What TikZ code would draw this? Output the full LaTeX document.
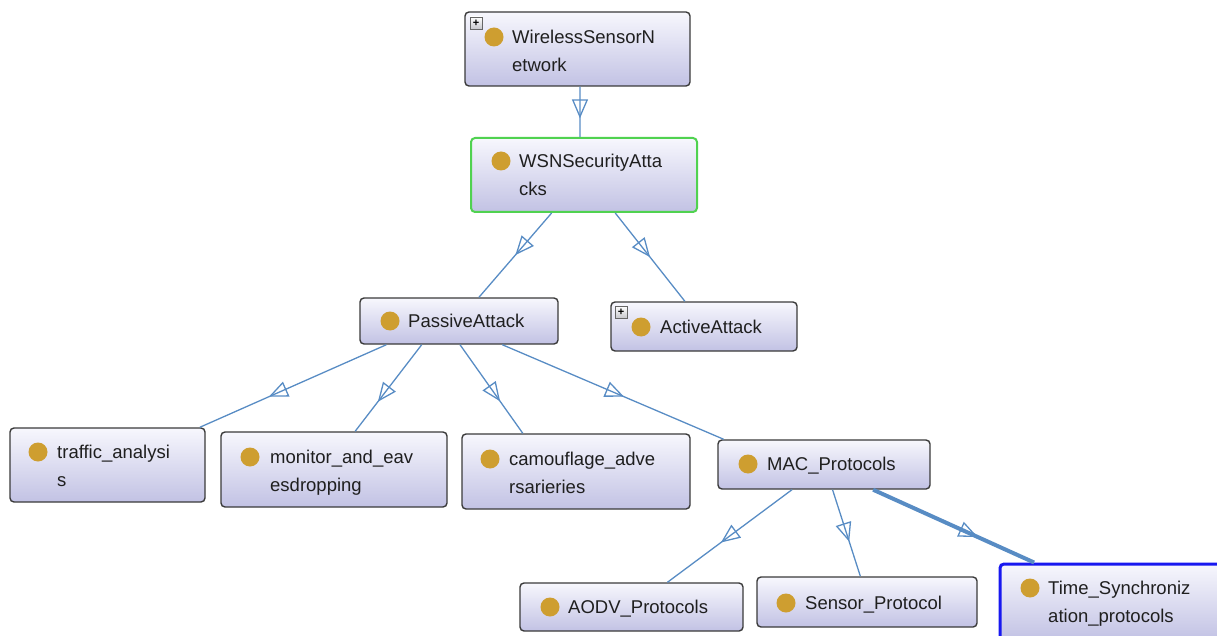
\documentclass[tikz,border=0pt]{standalone}
\usepackage{fontspec}
\setmainfont{Liberation Sans}
\usetikzlibrary{arrows.meta,calc,decorations.markings}

\definecolor{boxtop}{RGB}{247,247,253}
\definecolor{boxbottom}{RGB}{194,194,228}
\definecolor{boxline}{RGB}{58,58,58}
\definecolor{dotgold}{RGB}{206,158,48}
\definecolor{linkblue}{RGB}{88,140,196}
\definecolor{focusgreen}{RGB}{80,210,80}
\definecolor{selblue}{RGB}{24,24,240}

\tikzset{
  classbox/.style={rectangle, rounded corners=4pt, draw=boxline, line width=1.4pt,
    top color=boxtop, bottom color=boxbottom, inner sep=0pt},
  focusbox/.style={classbox, draw=focusgreen, line width=2pt},
  selbox/.style={classbox, draw=selblue, line width=3pt},
  classdot/.style={circle, fill=dotgold, inner sep=0pt, minimum size=19pt},
  classname/.style={anchor=base west, inner sep=0pt, align=left,
    font=\fontsize{18.5}{28}\selectfont, text=black!88},
  expander/.style={rectangle, draw=black!60, line width=0.8pt, top color=white,
    bottom color=blue!10!black!22, minimum size=12pt, inner sep=0pt,
    font=\bfseries\fontsize{11}{11}\selectfont},
  isa/.style={draw=linkblue, line width=1.3pt,
    decoration={markings, mark=at position #1 with
      {\arrow{Triangle[open, length=19pt, width=16pt, line width=1.3pt]}}},
    postaction={decorate}},
  isa/.default=0.55,
  thickisa/.style={isa=#1, line width=4pt},
}

% box: name, x1, y1, x2, y2, style
\newcommand\ontobox[6]{%
  \node[#6, minimum width={(#4-#2)*1pt}, minimum height={(#5-#3)*1pt}]
    (#1) at ({(#2+#4)/2},{(#3+#5)/2}) {};}
% one-line label: name, dot x, dot y, text x, text
\newcommand\ontolabel[5]{%
  \node[classdot] (#1-dot) at (#2,#3) {};
  \node[classname] (#1-name) at (#4,#3+6.5) {#5};}
% two-line label: name, dot x, dot y, text x, first line, second line
\newcommand\ontolabeltwo[6]{%
  \node[classdot] (#1-dot) at (#2,#3) {};
  \node[classname] (#1-name) at (#4,#3+34.5) {#5\\#6};}

\begin{document}
\begin{tikzpicture}[x=1pt,y=-1pt]
\useasboundingbox (0,0) rectangle (1217,636);
\clip (0,0) rectangle (1217,636);

% class boxes
\ontobox{wsn}{465}{12}{690}{86}{classbox}
\ontobox{wsnsa}{471}{138}{697}{212}{focusbox}
\ontobox{pa}{360}{298}{558}{344}{classbox}
\ontobox{aa}{611}{302}{797}{351}{classbox}
\ontobox{ta}{10}{428}{205}{502}{classbox}
\ontobox{me}{221}{432}{447}{507}{classbox}
\ontobox{ca}{462}{434}{690}{509}{classbox}
\ontobox{mac}{718}{440}{930}{489}{classbox}
\ontobox{aodv}{520}{583}{743}{631}{classbox}
\ontobox{sp}{757}{577}{977}{627}{classbox}
\ontobox{ts}{1000}{564}{1228}{640}{selbox}

% expand markers
\node[expander] (wsn-plus) at (476,23) {+};
\node[expander] (aa-plus) at (621,312) {+};

% class names
\ontolabeltwo{wsn}{494}{37}{512}{WirelessSensorN}{etwork}
\ontolabeltwo{wsnsa}{501}{161}{519}{WSNSecurityAtta}{cks}
\ontolabel{pa}{390}{321}{408}{PassiveAttack}
\ontolabel{aa}{641}{327}{660}{ActiveAttack}
\ontolabeltwo{ta}{38}{452}{57}{traffic\_analysi}{s}
\ontolabeltwo{me}{250}{457}{270}{monitor\_and\_eav}{esdropping}
\ontolabeltwo{ca}{490}{459}{509}{camouflage\_adve}{rsarieries}
\ontolabel{mac}{748}{464}{767}{MAC\_Protocols}
\ontolabel{aodv}{550}{607}{568}{AODV\_Protocols}
\ontolabel{sp}{786}{603}{805}{Sensor\_Protocol}
\ontolabeltwo{ts}{1030}{588}{1048}{Time\_Synchroniz}{ation\_protocols}

% subclass links
\path[isa=0.63] ($(wsn.south west)!0.511!(wsn.south east)$) -- ($(wsnsa.north west)!0.482!(wsnsa.north east)$);
\path[isa=0.5] ($(wsnsa.south west)!0.358!(wsnsa.south east)$) -- ($(pa.north west)!0.60!(pa.north east)$);
\path[isa=0.5] ($(wsnsa.south west)!0.637!(wsnsa.south east)$) -- ($(aa.north west)!0.398!(aa.north east)$);
\path[isa=0.63] ($(pa.south west)!0.136!(pa.south east)$) -- ($(ta.north west)!0.97!(ta.north east)$);
\path[isa=0.66] ($(pa.south west)!0.313!(pa.south east)$) -- ($(me.north west)!0.593!(me.north east)$);
\path[isa=0.64] ($(pa.south west)!0.505!(pa.south east)$) -- ($(ca.north west)!0.268!(ca.north east)$);
\path[isa=0.55] ($(pa.south west)!0.717!(pa.south east)$) -- ($(mac.north west)!0.03!(mac.north east)$);
\path[isa=0.57] ($(mac.south west)!0.35!(mac.south east)$) -- ($(aodv.north west)!0.66!(aodv.north east)$);
\path[isa=0.6] ($(mac.south west)!0.54!(mac.south east)$) -- ($(sp.north west)!0.47!(sp.north east)$);
\path[thickisa=0.65] ($(mac.south west)!0.73!(mac.south east)$) -- ($(ts.north west)!0.154!(ts.north east)$);
\end{tikzpicture}
\end{document}
